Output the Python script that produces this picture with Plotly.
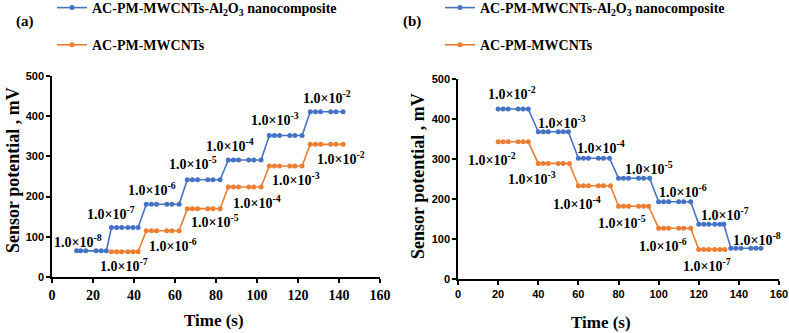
import plotly.graph_objects as go

# ---------------- data ----------------
# Panel (a): increasing concentration
a_nano_t = [12, 14, 16.5, 21.5, 24, 26.5,
            29, 31.5, 34, 37, 39.5, 42,
            46, 48.5, 51, 56, 58.5, 62,
            66, 68.5, 71, 76, 78.5, 82,
            86, 88.5, 91, 96, 98.5, 102,
            106, 108.5, 111, 116, 118.5, 122,
            126, 128.5, 131, 136, 138.5, 142]
a_nano_v = [65, 65, 65, 65, 65, 65,
            123, 123, 123, 123, 123, 123,
            181, 181, 181, 181, 181, 181,
            242, 242, 242, 242, 242, 242,
            291, 291, 291, 291, 291, 291,
            352, 352, 352, 352, 352, 352,
            411, 411, 411, 411, 411, 411]
a_mw_t = [29, 31.5, 34, 37, 39.5, 42,
          46, 48.5, 51, 56, 58.5, 62,
          66, 68.5, 71, 76, 78.5, 82,
          86, 88.5, 91, 96, 98.5, 102,
          106, 108.5, 111, 116, 118.5, 122,
          126, 128.5, 131, 136, 138.5, 142]
a_mw_v = [63, 63, 63, 63, 63, 63,
          115, 115, 115, 115, 115, 115,
          170, 170, 170, 170, 170, 170,
          224, 224, 224, 224, 224, 224,
          276, 276, 276, 276, 276, 276,
          330, 330, 330, 330, 330, 330]

# Panel (b): decreasing concentration
b_nano_t = [20, 22.5, 25, 30, 32.5, 35,
            40, 42.5, 45, 50, 52.5, 55,
            60, 62.5, 65, 70, 72.5, 75.5,
            80, 82.5, 85, 90, 92.5, 95.5,
            100, 102.5, 105, 110, 112.5, 116,
            120, 122.5, 125, 128, 130.5, 132.5,
            136, 138.5, 141, 146, 148.5, 151]
b_nano_v = [425, 425, 425, 425, 425, 425,
            368, 368, 368, 368, 368, 368,
            302, 302, 302, 302, 302, 302,
            252, 252, 252, 252, 252, 252,
            193, 193, 193, 193, 193, 193,
            137, 137, 137, 137, 137, 137,
            77, 77, 77, 77, 77, 77]
b_mw_t = [20, 22.5, 25, 30, 32.5, 35,
          40, 42.5, 45, 50, 52.5, 55.5,
          60, 62.5, 65, 70, 72.5, 76,
          80, 82.5, 85, 90, 92.5, 95,
          100, 102.5, 105, 110, 112.5, 116,
          120, 122.5, 125, 128, 130.5, 133]
b_mw_v = [343, 343, 343, 343, 343, 343,
          289, 289, 289, 289, 289, 289,
          233, 233, 233, 233, 233, 233,
          182, 182, 182, 182, 182, 182,
          127, 127, 127, 127, 127, 127,
          74, 74, 74, 74, 74, 74]

# concentration labels: (exponent, x, y)
a_nano_lbl_exp = ["-8", "-7", "-6", "-5", "-4", "-3", "-2"]
a_nano_lbl_x = [12.7, 29, 49, 69, 87, 109, 134]
a_nano_lbl_y = [90, 159, 219, 284, 328, 393, 448]
a_mw_lbl_exp = ["-7", "-6", "-5", "-4", "-3", "-2"]
a_mw_lbl_x = [35, 59, 79.5, 100, 119, 141]
a_mw_lbl_y = [30, 80, 139, 187, 244, 296]

b_nano_lbl_exp = ["-2", "-3", "-4", "-5", "-6", "-7", "-8"]
b_nano_lbl_x = [27, 52, 71.5, 95, 112, 133, 149]
b_nano_lbl_y = [465, 393, 330, 277, 220, 162, 100]
b_mw_lbl_exp = ["-2", "-3", "-4", "-5", "-6", "-7"]
b_mw_lbl_x = [17, 37, 59.5, 81.5, 102, 124]
b_mw_lbl_y = [300, 252, 190, 143, 85, 35]

name_nano = "AC-PM-MWCNTs-Al<sub>2</sub>O<sub>3</sub> nanocomposite"
name_mw = "AC-PM-MWCNTs"

BLUE = "#4472C4"
ORANGE = "#ED7D31"
W, H = 789, 333
SERIF = "Liberation Serif"
SANS = "Liberation Sans"

fig = go.Figure()


def add_series(t, v, color, name, xa, ya, legend, group):
    fig.add_trace(go.Scatter(
        x=t, y=v, mode="lines+markers", name=name,
        line=dict(color=color, width=1.6),
        marker=dict(color=color, size=5, symbol="circle"),
        xaxis=xa, yaxis=ya, legend=legend, legendgroup=group,
    ))


add_series(a_nano_t, a_nano_v, BLUE, name_nano, "x", "y", "legend", "a1")
add_series(a_mw_t, a_mw_v, ORANGE, name_mw, "x", "y", "legend", "a2")
add_series(b_nano_t, b_nano_v, BLUE, name_nano, "x2", "y2", "legend2", "b1")
add_series(b_mw_t, b_mw_v, ORANGE, name_mw, "x2", "y2", "legend2", "b2")

annotations = []


def add_labels(exps, xs, ys, xref, yref):
    for e, x, y in zip(exps, xs, ys):
        annotations.append(dict(
            text="1.0×10<sup>" + e + "</sup>", x=x, y=y, xref=xref, yref=yref,
            showarrow=False, xanchor="center", yanchor="middle",
            font=dict(family=SERIF, size=14, color="black", weight="bold"),
        ))


add_labels(a_nano_lbl_exp, a_nano_lbl_x, a_nano_lbl_y, "x", "y")
add_labels(a_mw_lbl_exp, a_mw_lbl_x, a_mw_lbl_y, "x", "y")
add_labels(b_nano_lbl_exp, b_nano_lbl_x, b_nano_lbl_y, "x2", "y2")
add_labels(b_mw_lbl_exp, b_mw_lbl_x, b_mw_lbl_y, "x2", "y2")


def px_x(p):
    return p / W


def px_y(p):
    return 1 - p / H


def paper_text(text, x, y, size, angle=0):
    return dict(text=text, x=px_x(x), y=px_y(y), xref="paper", yref="paper",
                xanchor="center", yanchor="middle", textangle=angle,
                showarrow=False,
                font=dict(family=SERIF, size=size, color="black", weight="bold"))


annotations += [
    paper_text("Sensor potential , mV", 13, 170, 18, -90),
    paper_text("Sensor potential , mV", 418, 176, 18, -90),
    paper_text("Time (s)", 214, 320, 17),
    paper_text("Time (s)", 601, 322, 17),
    paper_text("(a)", 25, 21, 15),
    paper_text("(b)", 412, 22, 15),
]

axis_common = dict(
    showline=True, linecolor="black", linewidth=1.5, ticks="outside",
    ticklen=4, tickwidth=1.5, tickcolor="black", showgrid=False, zeroline=False,
    fixedrange=True, automargin=False,
)
sans_tick = dict(family=SANS, size=11, color="black", weight="bold")
serif_tick = dict(family=SERIF, size=14, color="black", weight="bold")

legend_common = dict(
    font=dict(family=SERIF, size=14, color="black", weight="bold"),
    bgcolor="rgba(0,0,0,0)", itemwidth=30, traceorder="grouped",
    tracegroupgap=16, xanchor="left", yanchor="top", itemclick=False,
)

fig.update_layout(
    width=W, height=H, margin=dict(l=0, r=0, t=0, b=0, autoexpand=False),
    paper_bgcolor="white", plot_bgcolor="white",
    showlegend=True,
    xaxis=dict(domain=[px_x(52), px_x(380)], range=[0, 160], dtick=20,
               anchor="y", tickfont=serif_tick, **axis_common),
    yaxis=dict(domain=[px_y(277), px_y(76)], range=[0, 500], dtick=100,
               anchor="x", tickfont=sans_tick, **axis_common),
    xaxis2=dict(domain=[px_x(458), px_x(779)], range=[0, 160], dtick=20,
                anchor="y2", tickfont=sans_tick, **axis_common),
    yaxis2=dict(domain=[px_y(279), px_y(79)], range=[0, 500], dtick=100,
                anchor="x2", tickfont=sans_tick, **axis_common),
    legend=dict(x=px_x(52), y=px_y(-8), **legend_common),
    legend2=dict(x=px_x(440), y=px_y(-8), **legend_common),
    annotations=annotations,
)

fig.write_html(
    "out.html",
    config={"displayModeBar": False},
    post_script="document.body.style.margin='0';document.body.style.overflow='hidden';",
)
